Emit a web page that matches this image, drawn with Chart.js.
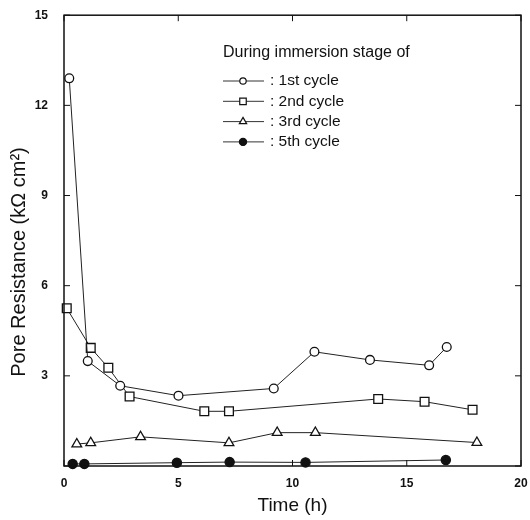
<!DOCTYPE html>
<html>
<head>
<meta charset="utf-8">
<script src="https://cdn.jsdelivr.net/npm/chart.js@4/dist/chart.umd.min.js"></script>
<style>
  html, body { margin: 0; padding: 0; background: #fff; }
  #wrap { width: 530px; height: 520px; }
</style>
</head>
<body>
<div id="wrap"><canvas id="chart" width="530" height="520"></canvas></div>
<script>
// values (time in h, resistance in kOhm cm2)
const cycle1X = [0.23, 1.04, 2.46, 5.01, 9.18, 10.96, 13.39, 15.98, 16.75];
const cycle1Y = [12.9, 3.49, 2.67, 2.34, 2.58, 3.80, 3.53, 3.35, 3.96];
const cycle2X = [0.12, 1.17, 1.94, 2.87, 6.14, 7.22, 13.75, 15.78, 17.88];
const cycle2Y = [5.25, 3.93, 3.27, 2.31, 1.82, 1.82, 2.23, 2.14, 1.87];
const cycle3X = [0.56, 1.17, 3.35, 7.22, 9.33, 11.0, 18.07];
const cycle3Y = [0.73, 0.77, 0.97, 0.77, 1.11, 1.11, 0.78];
const cycle5X = [0.38, 0.89, 4.94, 7.25, 10.57, 16.71];
const cycle5Y = [0.07, 0.07, 0.11, 0.13, 0.12, 0.20];

const legendTitle = "During immersion stage of";
const labels = ["1st cycle", "2nd cycle", "3rd cycle", "5th cycle"];
const xTicks = [0, 5, 10, 15, 20];
const yTicks = [0, 3, 6, 9, 12, 15];
const yTitle = "Pore Resistance (kΩ cm²)";

const font = "'Liberation Sans', Arial, sans-serif";

function pts(xs, ys) {
  return xs.map((x, i) => ({ x: x, y: ys[i] }));
}

const markerSize = { circle: 4.4, rect: 6.2, triangle: 5.6 };
const legendSize = { circle: 3.2, rect: 4.6, triangle: 4.2 };

function series(label, xs, ys, style, fill) {
  return {
    label: label,
    data: pts(xs, ys),
    borderColor: "#222",
    borderWidth: 1,
    pointStyle: style,
    pointRadius: fill === "#fff" ? markerSize[style] : 4.6,
    pointBorderWidth: 1.3,
    pointBorderColor: "#111",
    pointBackgroundColor: fill,
    tension: 0,
    clip: false
  };
}

// box, inward ticks, y title and the custom legend
const frame = {
  id: "frame",
  afterDatasetsDraw(chart) {
    const c = chart.ctx, a = chart.chartArea;
    const sx = chart.scales.x, sy = chart.scales.y;
    c.save();
    c.strokeStyle = "#111";
    c.lineWidth = 1.5;
    c.strokeRect(a.left, a.top, a.right - a.left, a.bottom - a.top);
    c.lineWidth = 1;
    xTicks.forEach(v => {
      const px = sx.getPixelForValue(v);
      c.beginPath(); c.moveTo(px, a.bottom); c.lineTo(px, a.bottom - 6); c.stroke();
      c.beginPath(); c.moveTo(px, a.top); c.lineTo(px, a.top + 6); c.stroke();
    });
    yTicks.forEach(v => {
      const py = sy.getPixelForValue(v);
      c.beginPath(); c.moveTo(a.left, py); c.lineTo(a.left + 6, py); c.stroke();
      c.beginPath(); c.moveTo(a.right, py); c.lineTo(a.right - 6, py); c.stroke();
    });

    // y axis title, sits a bit below the middle in the original
    c.save();
    c.translate(19, 262);
    c.rotate(-Math.PI / 2);
    c.fillStyle = "#111";
    c.font = "20px " + font;
    c.textAlign = "center";
    c.textBaseline = "middle";
    c.fillText(yTitle, 0, 0);
    c.restore();

    // legend
    c.fillStyle = "#111";
    c.font = "16px " + font;
    c.textBaseline = "middle";
    c.fillText(legendTitle, 223, 53);
    c.font = "15.5px " + font;
    chart.data.datasets.forEach((ds, i) => {
      const y = 81 + i * 20.3;
      c.strokeStyle = "#333";
      c.beginPath(); c.moveTo(223, y); c.lineTo(264, y); c.stroke();
      c.fillStyle = ds.pointBackgroundColor;
      c.strokeStyle = "#111";
      c.lineWidth = 1.2;
      Chart.helpers.drawPoint(c, {
        pointStyle: ds.pointStyle,
        radius: ds.pointBackgroundColor === "#fff" ? legendSize[ds.pointStyle] : 3.6,
        borderWidth: 1.2
      }, 243, y);
      c.lineWidth = 1;
      c.fillStyle = "#111";
      c.fillText(": " + ds.label, 270, y);
    });
    c.restore();
  }
};

new Chart(document.getElementById("chart"), {
  type: "line",
  data: {
    datasets: [
      series(labels[0], cycle1X, cycle1Y, "circle", "#fff"),
      series(labels[1], cycle2X, cycle2Y, "rect", "#fff"),
      series(labels[2], cycle3X, cycle3Y, "triangle", "#fff"),
      series(labels[3], cycle5X, cycle5Y, "circle", "#111")
    ]
  },
  options: {
    responsive: false,
    animation: false,
    layout: { padding: { top: 11, right: 9, left: 0, bottom: 0 } },
    plugins: { legend: { display: false }, tooltip: { enabled: false } },
    scales: {
      x: {
        type: "linear",
        min: 0, max: 20,
        afterBuildTicks: s => { s.ticks = xTicks.map(v => ({ value: v })); },
        afterFit: s => { s.height = 54; },
        grid: { display: false },
        border: { display: false },
        ticks: { color: "#111", font: { family: font, size: 12, weight: "bold" }, padding: 2 },
        title: { display: true, text: "Time (h)", color: "#111", font: { family: font, size: 19 }, padding: { top: 0, bottom: 3 } }
      },
      y: {
        type: "linear",
        min: 0, max: 15,
        afterBuildTicks: s => { s.ticks = yTicks.map(v => ({ value: v })); },
        afterFit: s => { s.width = 64; },
        grid: { display: false },
        border: { display: false },
        ticks: {
          color: "#111",
          font: { family: font, size: 12, weight: "bold" },
          padding: 8,
          callback: v => (v === 0 ? "" : v)
        },
        title: { display: false }
      }
    }
  },
  plugins: [frame]
});
</script>
</body>
</html>
